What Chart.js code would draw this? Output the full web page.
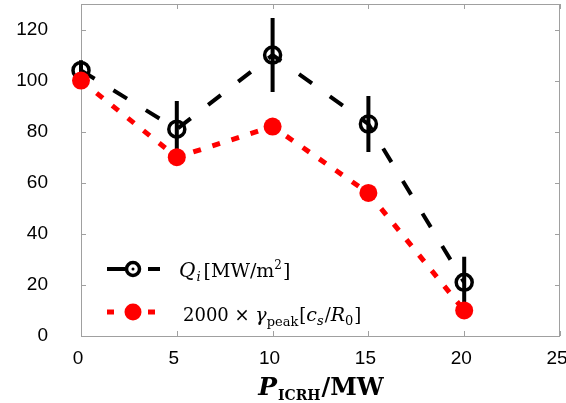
<!DOCTYPE html>
<html><head><meta charset="utf-8">
<script src="https://cdn.jsdelivr.net/npm/chart.js@4/dist/chart.umd.min.js"></script>
<style>html,body{margin:0;padding:0;background:#fff;}#wrap{width:566px;height:403px;}</style>
</head><body><div id="wrap"><canvas id="c" width="566" height="403"></canvas></div>
<script>
const powers = [0, 5, 10, 15, 20];
const qi = [104, 81, 110, 83, 21];
const qiErr = [4, 11, 14.5, 11, 10];
const gamma = [100, 70, 82, 56, 10];
const xTicks = [0, 5, 10, 15, 20, 25];
const yTicks = [0, 20, 40, 60, 80, 100, 120];

const S = "'DejaVu Serif', 'Liberation Serif', serif";

const frame = {
  id: 'frame',
  beforeDatasetsDraw(chart) {
    const ctx = chart.ctx, a = chart.chartArea;
    const xs = chart.scales.x, ys = chart.scales.y;
    ctx.save();
    ctx.strokeStyle = '#a0a0a0'; ctx.lineWidth = 1;
    ctx.strokeRect(a.left + 0.5, a.top + 0.5, a.right - a.left - 1, a.bottom - a.top);
    ctx.beginPath();
    xTicks.forEach(v => { const p = Math.round(xs.getPixelForValue(v)) + 0.5;
      ctx.moveTo(p, a.bottom); ctx.lineTo(p, a.bottom - 5);
      ctx.moveTo(p, a.top); ctx.lineTo(p, a.top + 5); });
    yTicks.forEach(v => { const p = Math.round(ys.getPixelForValue(v)) + 0.5;
      ctx.moveTo(a.left, p); ctx.lineTo(a.left + 5, p);
      ctx.moveTo(a.right, p); ctx.lineTo(a.right - 5, p); });
    ctx.stroke();
    ctx.strokeStyle = '#000'; ctx.lineWidth = 4; ctx.lineCap = 'butt';
    ctx.beginPath();
    powers.forEach((x, i) => {
      const px = xs.getPixelForValue(x);
      ctx.moveTo(px, ys.getPixelForValue(qi[i] + qiErr[i]));
      ctx.lineTo(px, ys.getPixelForValue(qi[i] - qiErr[i]));
    });
    ctx.stroke();
    ctx.restore();
  },
  afterDraw(chart) {
    const ctx = chart.ctx;
    ctx.save();
    ctx.textBaseline = 'alphabetic';
    function pieces(x, y, arr) {
      arr.forEach(p => { ctx.font = p.f; ctx.fillStyle = '#000'; ctx.fillText(p.t, x, y + (p.dy || 0)); x += ctx.measureText(p.t).width + (p.sp || 0); });
      return x;
    }
    function width(arr) { let w = 0; arr.forEach(p => { ctx.font = p.f; w += ctx.measureText(p.t).width + (p.sp || 0); }); return w; }
    ctx.strokeStyle = '#000'; ctx.lineWidth = 4;
    ctx.beginPath(); ctx.moveTo(107, 269); ctx.lineTo(125, 269); ctx.moveTo(148, 269); ctx.lineTo(160, 269); ctx.stroke();
    ctx.lineWidth = 3.5; ctx.beginPath(); ctx.arc(133, 269, 6.5, 0, Math.PI * 2); ctx.stroke();
    ctx.fillStyle = '#000'; ctx.beginPath(); ctx.arc(133, 269, 1.5, 0, Math.PI * 2); ctx.fill();
    pieces(179, 277, [
      { t: 'Q', f: 'italic 20px ' + S, sp: 1 },
      { t: 'i', f: 'italic 13px ' + S, dy: 4, sp: 3 },
      { t: '[MW/m', f: '19px ' + S },
      { t: '2', f: '12px ' + S, dy: -8, sp: 1 },
      { t: ']', f: '19px ' + S }
    ]);
    ctx.strokeStyle = '#ff0000'; ctx.lineWidth = 5;
    ctx.beginPath(); ctx.moveTo(107, 312); ctx.lineTo(114, 312); ctx.moveTo(148, 312); ctx.lineTo(155, 312); ctx.stroke();
    ctx.fillStyle = '#ff0000'; ctx.beginPath(); ctx.arc(133, 312, 8.5, 0, Math.PI * 2); ctx.fill();
    pieces(183, 321, [
      { t: '2000 \u00d7 ', f: '18px ' + S },
      { t: '\u03b3', f: 'italic 19px ' + S },
      { t: 'peak', f: '13px ' + S, dy: 5, sp: 1 },
      { t: '[', f: '18px ' + S },
      { t: 'c', f: 'italic 19px ' + S },
      { t: 's', f: 'italic 13px ' + S, dy: 4, sp: 1 },
      { t: '/', f: '18px ' + S },
      { t: 'R', f: 'italic 19px ' + S },
      { t: '0', f: '13px ' + S, dy: 4, sp: 1 },
      { t: ']', f: '18px ' + S }
    ]);
    const xl = [
      { t: 'P', f: 'bold italic 25px ' + S, sp: 1 },
      { t: 'ICRH', f: 'bold 14px ' + S, dy: 5, sp: 1 },
      { t: '/MW', f: 'bold 24px ' + S }
    ];
    const w = width(xl);
    pieces(321 - w / 2, 395, xl);
    ctx.restore();
  }
};

new Chart(document.getElementById('c'), {
  type: 'line',
  data: {
    datasets: [
      {
        label: '2000 × γpeak[cs/R0]',
        data: powers.map((x, i) => ({ x, y: gamma[i] })),
        borderColor: '#ff0000', borderWidth: 5, borderDash: [8, 12],
        pointRadius: 9, pointBackgroundColor: '#ff0000', pointBorderWidth: 0,
        pointBorderColor: '#ff0000', fill: false, tension: 0, order: 0, clip: false
      },
      {
        label: 'Qi[MW/m2]',
        data: powers.map((x, i) => ({ x, y: qi[i] })),
        borderColor: '#000', borderWidth: 4, borderDash: [16, 22],
        pointRadius: 8, pointBackgroundColor: 'rgba(0,0,0,0)', pointBorderWidth: 3.5,
        pointBorderColor: '#000', fill: false, tension: 0, order: 1, clip: false
      }
    ]
  },
  options: {
    responsive: false, animation: false, maintainAspectRatio: false,
    layout: { autoPadding: false, padding: { top: 4, right: 6, left: 0, bottom: 0 } },
    plugins: { legend: { display: false }, tooltip: { enabled: false } },
    scales: {
      x: {
        type: 'linear', min: 0, max: 25,
        afterBuildTicks: s => { s.ticks = xTicks.map(v => ({ value: v })); },
        afterFit: s => { s.height = 67; s.paddingLeft = 0; s.paddingRight = 0; },
        grid: { display: false, drawTicks: false }, border: { display: false },
        ticks: { padding: 11, color: '#000', font: { family: "'Liberation Sans', Arial, sans-serif", size: 19 }, maxRotation: 0, autoSkip: false, labelOffset: -3 }
      },
      y: {
        type: 'linear', min: 0, max: 130,
        afterBuildTicks: s => { s.ticks = yTicks.map(v => ({ value: v })); },
        afterFit: s => { s.width = 81; s.paddingTop = 0; s.paddingBottom = 0; },
        grid: { display: false, drawTicks: false }, border: { display: false },
        ticks: { padding: 33, color: '#000', font: { family: "'Liberation Sans', Arial, sans-serif", size: 19 }, autoSkip: false }
      }
    }
  },
  plugins: [frame]
});
</script></body></html>
